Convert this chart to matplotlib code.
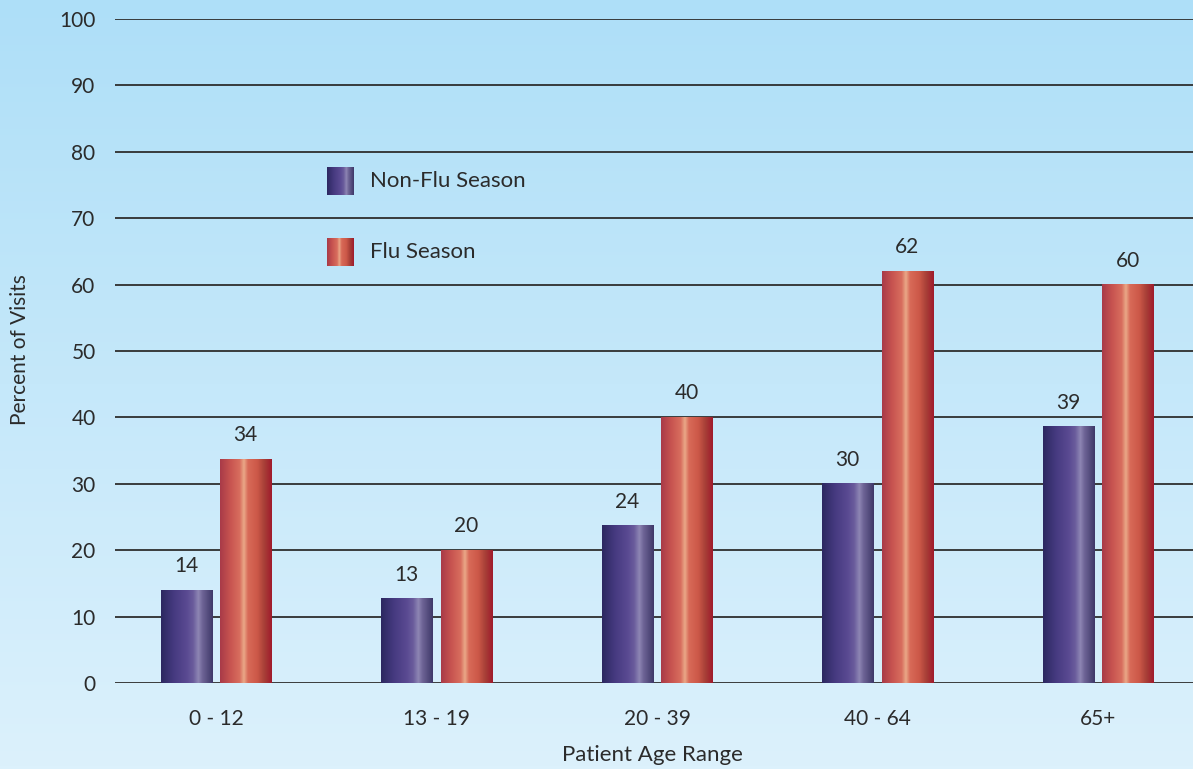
import numpy as np
import matplotlib
matplotlib.use("Agg")
import matplotlib.pyplot as plt
from matplotlib.colors import LinearSegmentedColormap

categories = ["0 - 12", "13 - 19", "20 - 39", "40 - 64", "65+"]
non_flu = [14, 12.7, 23.7, 30, 38.6]
flu = [33.7, 20, 40, 62, 60]
series_names = ["Non-Flu Season", "Flu Season"]
yticks = list(range(0, 101, 10))

plt.rcParams['font.family'] = ['Lato', 'DejaVu Sans']
TXT = '#2b2b2b'

purple_cmap = LinearSegmentedColormap.from_list('p', [
    (0.0, '#2c2860'), (0.25, '#463a80'), (0.5, '#5a4a92'),
    (0.62, '#6a5c9c'), (0.72, '#8e86b4'), (0.8, '#6e6496'), (1.0, '#3e3868')])
red_cmap = LinearSegmentedColormap.from_list('r', [
    (0.0, '#a83a48'), (0.2, '#c85450'), (0.38, '#d86e5e'), (0.46, '#eaa888'),
    (0.54, '#d86a58'), (0.72, '#cc5848'), (0.85, '#a84038'), (1.0, '#a01a2c')])

fig = plt.figure(figsize=(11.93, 7.69), dpi=100)

# background gradient
bg = fig.add_axes([0, 0, 1, 1], zorder=-10)
grad = np.linspace(0, 1, 256).reshape(-1, 1)
bg_cmap = LinearSegmentedColormap.from_list('bg', ['#aedff8', '#dcf1fc'])
bg.imshow(grad, aspect='auto', cmap=bg_cmap, extent=(0, 1, 0, 1), origin='upper')
bg.set_axis_off()

ax = fig.add_axes([115/1193, 1-683/769, 1-115/1193, (683-19)/769])
ax.patch.set_alpha(0)
for s in ax.spines.values():
    s.set_visible(False)
ax.set_yticks(yticks)
ax.yaxis.grid(True, color='#2e2e2e', linewidth=1.3)
ax.set_axisbelow(True)
ax.tick_params(axis='y', length=0, labelsize=15, colors=TXT, pad=14)
ax.tick_params(axis='x', length=0, labelsize=15, colors=TXT, pad=19)
ax.set_xticks(range(len(categories)))
ax.set_xticklabels(categories)

hgrad = np.linspace(0, 1, 256).reshape(1, -1)
w = 0.232
off = 0.135

def gbar(xc, h, cmap):
    ax.imshow(hgrad, cmap=cmap, aspect='auto', extent=(xc - w/2, xc + w/2, 0, h),
              zorder=3, interpolation='bilinear')

for i in range(len(categories)):
    gbar(i - off, non_flu[i], purple_cmap)
    gbar(i + off, flu[i], red_cmap)
    ax.text(i - off, non_flu[i] + 2.1, f"{round(non_flu[i])}", ha='center', va='bottom',
            fontsize=15, color=TXT, zorder=4)
    ax.text(i + off, flu[i] + 2.1, f"{round(flu[i])}", ha='center', va='bottom',
            fontsize=15, color=TXT, zorder=4)

# legend
lw = 0.122
for (cmap, name, y0) in [(purple_cmap, series_names[0], 73.5), (red_cmap, series_names[1], 62.8)]:
    ax.imshow(hgrad, cmap=cmap, aspect='auto', extent=(0.503, 0.503 + lw, y0, y0 + 4.2),
              zorder=3, interpolation='bilinear')
    ax.text(0.698, y0 + 2.1, name, ha='left', va='center', fontsize=16, color=TXT)
ax.set_xlim(-0.458, 4.431)
ax.set_ylim(0, 100)

fig.text(20/1193, 1-350/769, "Percent of Visits", rotation=90, ha='center', va='center',
         fontsize=15, color=TXT)
fig.text(652/1193, 1-755/769, "Patient Age Range", ha='center', va='center',
         fontsize=16, color=TXT)

fig.savefig("out.png", dpi=100)
